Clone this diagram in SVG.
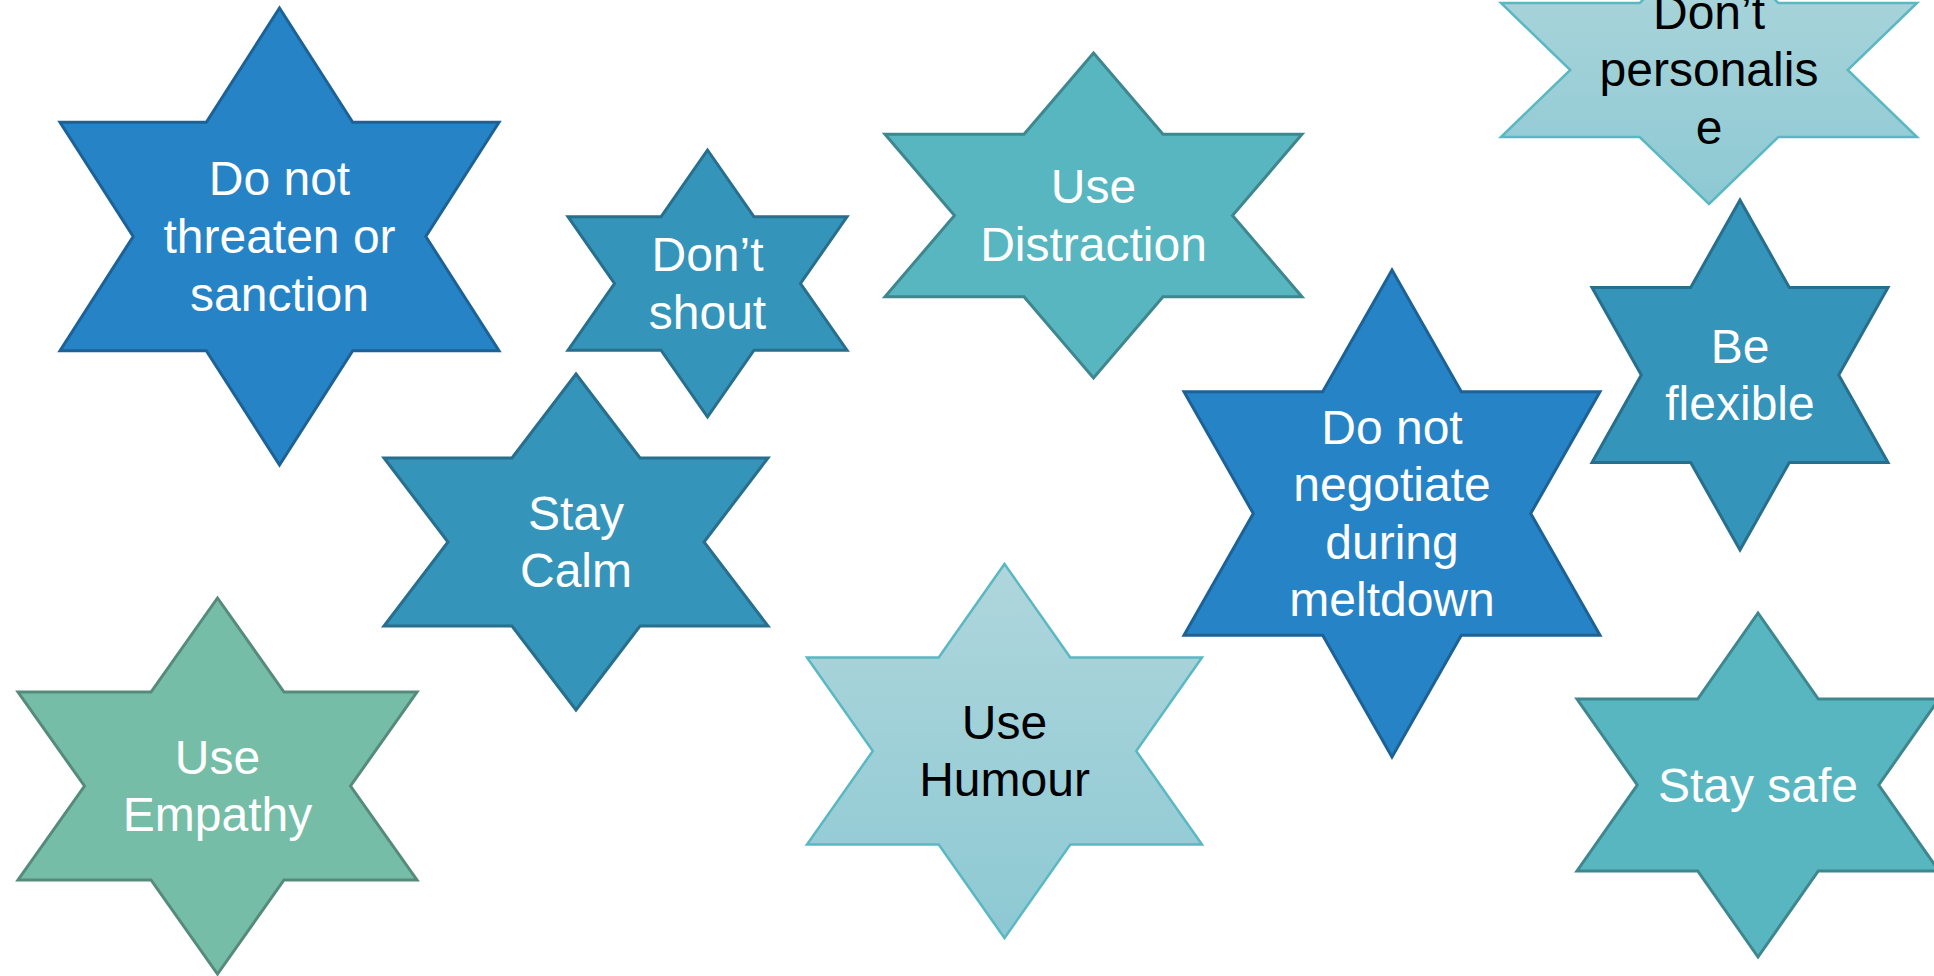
<svg xmlns="http://www.w3.org/2000/svg" width="1934" height="976" viewBox="0 0 1934 976">
<defs>
<linearGradient id="lightGrad" x1="0" y1="0" x2="0" y2="1">
<stop offset="0" stop-color="#AFD6DC"/>
<stop offset="1" stop-color="#8DC9D3"/>
</linearGradient>
</defs>
<style>
.star{stroke-linejoin:miter;}
.s-blue{fill:#2683C6;stroke:#1D6296;stroke-width:3;}
.s-teal{fill:#3494BA;stroke:#276F8C;stroke-width:3;}
.s-aqua{fill:#58B6C0;stroke:#3F878F;stroke-width:3;}
.s-green{fill:#75BDA7;stroke:#568B7B;stroke-width:3;}
.s-light{fill:url(#lightGrad);stroke:#5BB8C2;stroke-width:2.5;}
text{font-family:"Liberation Sans",Arial,sans-serif;font-size:48px;text-anchor:middle;}
.w{fill:#FFFFFF;}
.k{fill:#000000;}
</style>
<rect x="0" y="0" width="1934" height="976" fill="#FFFFFF"/>
<g id="connectors"></g>
<g id="node-threaten">
<polygon class="star s-blue" points="279.5,8 352.7,122.25 499,122.25 425.8,236.5 499,350.75 352.7,350.75 279.5,465 206.3,350.75 60,350.75 133.2,236.5 60,122.25 206.3,122.25"/>
<text class="w" x="279.5" y="195.4">Do not</text>
<text class="w" x="279.5" y="253">threaten or</text>
<text class="w" x="279.5" y="310.6">sanction</text>
</g>
<g id="node-shout">
<polygon class="star s-teal" points="707.5,150 754,216.75 847,216.75 800.5,283.5 847,350.25 754,350.25 707.5,417 661,350.25 568,350.25 614.5,283.5 568,216.75 661,216.75"/>
<text class="w" x="707.5" y="271.2">Don’t</text>
<text class="w" x="707.5" y="328.8">shout</text>
</g>
<g id="node-distraction">
<polygon class="star s-aqua" points="1093.5,53 1163,134.25 1302,134.25 1232.5,215.5 1302,296.75 1163,296.75 1093.5,378 1024,296.75 885,296.75 954.5,215.5 885,134.25 1024,134.25"/>
<text class="w" x="1093.5" y="203.2">Use</text>
<text class="w" x="1093.5" y="260.8">Distraction</text>
</g>
<g id="node-personalise">
<polygon class="star s-light" points="1709,-64 1778.3,3 1917,3 1847.7,70 1917,137 1778.3,137 1709,204 1639.7,137 1501,137 1570.3,70 1501,3 1639.7,3"/>
<text class="k" x="1709" y="28.7">Don’t</text>
<text class="k" x="1709" y="86.3">personalis</text>
<text class="k" x="1709" y="143.9">e</text>
</g>
<g id="node-flexible">
<polygon class="star s-teal" points="1740,200 1789.3,287.5 1888,287.5 1838.7,375 1888,462.5 1789.3,462.5 1740,550 1690.7,462.5 1592,462.5 1641.3,375 1592,287.5 1690.7,287.5"/>
<text class="w" x="1740" y="362.7">Be</text>
<text class="w" x="1740" y="420.3">flexible</text>
</g>
<g id="node-negotiate">
<polygon class="star s-blue" points="1392,270 1461.3,391.75 1600,391.75 1530.7,513.5 1600,635.25 1461.3,635.25 1392,757 1322.7,635.25 1184,635.25 1253.3,513.5 1184,391.75 1322.7,391.75"/>
<text class="w" x="1392" y="443.6">Do not</text>
<text class="w" x="1392" y="501.2">negotiate</text>
<text class="w" x="1392" y="558.8">during</text>
<text class="w" x="1392" y="616.4">meltdown</text>
</g>
<g id="node-calm">
<polygon class="star s-teal" points="576,374 640,458 768,458 704,542 768,626 640,626 576,710 512,626 384,626 448,542 384,458 512,458"/>
<text class="w" x="576" y="529.7">Stay</text>
<text class="w" x="576" y="587.3">Calm</text>
</g>
<g id="node-empathy">
<polygon class="star s-green" points="217.5,598 284,692 417,692 350.5,786 417,880 284,880 217.5,974 151,880 18,880 84.5,786 18,692 151,692"/>
<text class="w" x="217.5" y="773.7">Use</text>
<text class="w" x="217.5" y="831.3">Empathy</text>
</g>
<g id="node-humour">
<polygon class="star s-light" points="1004.5,564 1070.3,657.5 1202,657.5 1136.2,751 1202,844.5 1070.3,844.5 1004.5,938 938.7,844.5 807,844.5 872.8,751 807,657.5 938.7,657.5"/>
<text class="k" x="1004.5" y="738.7">Use</text>
<text class="k" x="1004.5" y="796.3">Humour</text>
</g>
<g id="node-safe">
<polygon class="star s-aqua" points="1758,613 1818.3,699 1939,699 1878.7,785 1939,871 1818.3,871 1758,957 1697.7,871 1577,871 1637.3,785 1577,699 1697.7,699"/>
<text class="w" x="1758" y="801.5">Stay safe</text>
</g>
</svg>
